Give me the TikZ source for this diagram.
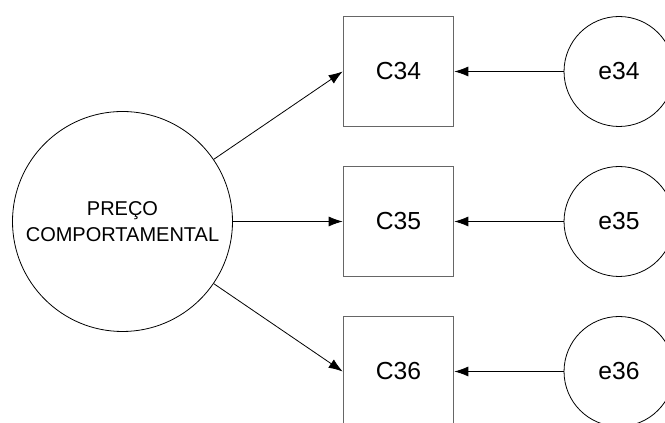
\documentclass[tikz,border=0pt]{standalone}
\usepackage{fontspec}
\setmainfont{Liberation Sans}
\tikzstyle{latent}=[circle,draw=black,line width=0.6pt,inner sep=0pt]
\tikzstyle{blatent}=[latent,minimum size=165pt,align=center,
font=\fontsize{15}{19.7}\selectfont]
\tikzstyle{elatent}=[latent,minimum size=82.5pt,
font=\fontsize{18.5}{22}\selectfont]
\tikzstyle{manifest}=[rectangle,draw=black!60,line width=0.75pt,
minimum size=83pt,font=\fontsize{18.5}{22}\selectfont]
\usetikzlibrary{arrows.meta,positioning}

\begin{document}
\begin{tikzpicture}[node distance=207pt, >={Latex[length=10.5pt,width=7.5pt]}, line width=0.6pt]
            \clip (-91.875pt,-151.125pt) rectangle (406.875pt,166.125pt);

            % LATENT PART

            \node[blatent] (preco) {PREÇO\\COMPORTAMENTAL};

            % INDICATORS

            \node[manifest, right of=preco] (c35) {C35};
            \node[manifest, above of=c35,	node distance=112.5pt] (c34) {C34};
            \node[manifest, below of=c35,	node distance=112.5pt] (c36) {C36};

            \path[->] (preco) edge node {} (c34.west);
            \path[->] (preco) edge node {} (c35);
            \path[->] (preco) edge node {} (c36.west);

            % ERRORS

            \node[elatent, right of=c34,	node distance=165.4pt] (e34) {e34};
            \node[elatent, right of=c35,	node distance=165.4pt] (e35) {e35};
            \node[elatent, right of=c36,	node distance=165.4pt] (e36) {e36};

            \path[->] (e34) edge node {} (c34);
            \path[->] (e35) edge node {} (c35);
            \path[->] (e36) edge node {} (c36);

        \end{tikzpicture}
\end{document}
